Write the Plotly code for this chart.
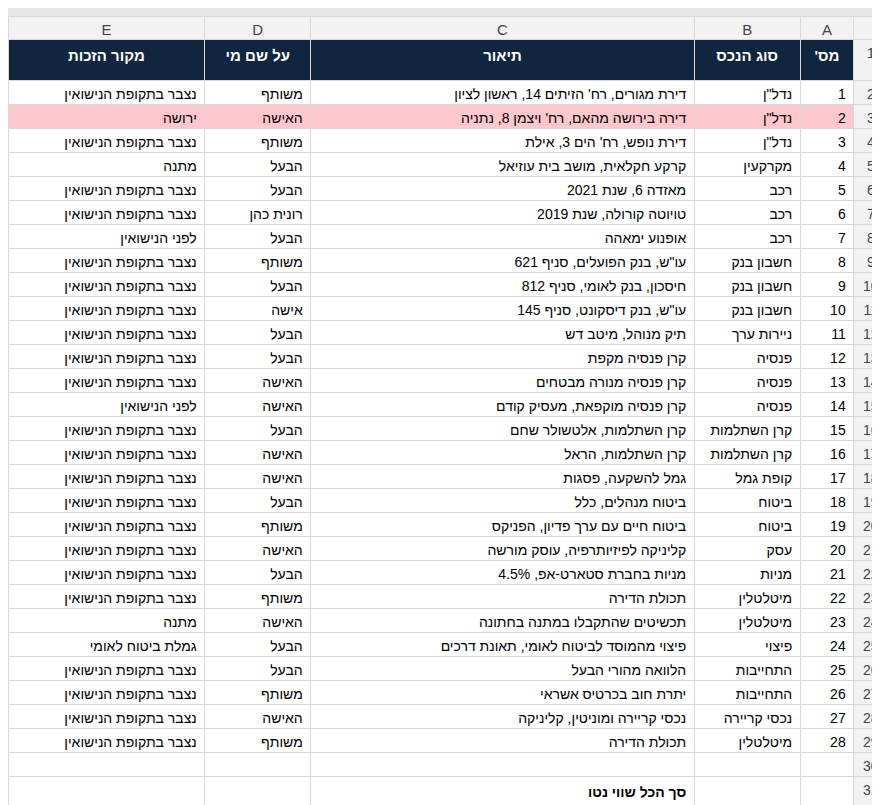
import plotly.graph_objects as go

RLE, PDF = '\u202b', '\u202c'

col_letters = ['E', 'D', 'C', 'B', 'A', '']
headers = ['מקור הזכות', 'על שם מי', 'תיאור', 'סוג הנכס', "מס'"]

num = list(range(1, 29))
asset_type = ['נדל"ן', 'נדל"ן', 'נדל"ן', 'מקרקעין', 'רכב', 'רכב', 'רכב', 'חשבון בנק', 'חשבון בנק',
              'חשבון בנק', 'ניירות ערך', 'פנסיה', 'פנסיה', 'פנסיה', 'קרן השתלמות', 'קרן השתלמות',
              'קופת גמל', 'ביטוח', 'ביטוח', 'עסק', 'מניות', 'מיטלטלין', 'מיטלטלין', 'פיצוי',
              'התחייבות', 'התחייבות', 'נכסי קריירה', 'מיטלטלין']
description = ["דירת מגורים, רח' הזיתים 14, ראשון לציון", "דירה בירושה מהאם, רח' ויצמן 8, נתניה",
               "דירת נופש, רח' הים 3, אילת", 'קרקע חקלאית, מושב בית עוזיאל', 'מאזדה 6, שנת 2021',
               'טויוטה קורולה, שנת 2019', 'אופנוע ימאהה', 'עו"ש, בנק הפועלים, סניף 621',
               'חיסכון, בנק לאומי, סניף 812', 'עו"ש, בנק דיסקונט, סניף 145', 'תיק מנוהל, מיטב דש',
               'קרן פנסיה מקפת', 'קרן פנסיה מנורה מבטחים', 'קרן פנסיה מוקפאת, מעסיק קודם',
               'קרן השתלמות, אלטשולר שחם', 'קרן השתלמות, הראל', 'גמל להשקעה, פסגות',
               'ביטוח מנהלים, כלל', 'ביטוח חיים עם ערך פדיון, הפניקס', 'קליניקה לפיזיותרפיה, עוסק מורשה',
               'מניות בחברת סטארט-אפ, 4.5%', 'תכולת הדירה', 'תכשיטים שהתקבלו במתנה בחתונה',
               'פיצוי מהמוסד לביטוח לאומי, תאונת דרכים', 'הלוואה מהורי הבעל', 'יתרת חוב בכרטיס אשראי',
               'נכסי קריירה ומוניטין, קליניקה', 'תכולת הדירה']
owner = ['משותף', 'האישה', 'משותף', 'הבעל', 'הבעל', 'רונית כהן', 'הבעל', 'משותף', 'הבעל', 'אישה',
         'הבעל', 'הבעל', 'האישה', 'האישה', 'הבעל', 'האישה', 'האישה', 'הבעל', 'משותף', 'האישה',
         'הבעל', 'משותף', 'האישה', 'הבעל', 'הבעל', 'משותף', 'האישה', 'משותף']
source = ['נצבר בתקופת הנישואין', 'ירושה', 'נצבר בתקופת הנישואין', 'מתנה', 'נצבר בתקופת הנישואין',
          'נצבר בתקופת הנישואין', 'לפני הנישואין', 'נצבר בתקופת הנישואין', 'נצבר בתקופת הנישואין',
          'נצבר בתקופת הנישואין', 'נצבר בתקופת הנישואין', 'נצבר בתקופת הנישואין',
          'נצבר בתקופת הנישואין', 'לפני הנישואין', 'נצבר בתקופת הנישואין', 'נצבר בתקופת הנישואין',
          'נצבר בתקופת הנישואין', 'נצבר בתקופת הנישואין', 'נצבר בתקופת הנישואין',
          'נצבר בתקופת הנישואין', 'נצבר בתקופת הנישואין', 'נצבר בתקופת הנישואין', 'מתנה',
          'גמלת ביטוח לאומי', 'נצבר בתקופת הנישואין', 'נצבר בתקופת הנישואין',
          'נצבר בתקופת הנישואין', 'נצבר בתקופת הנישואין']
total_label = 'סך הכל שווי נטו'
highlight_row = 2  # inheritance row

W, H = 880, 805
NAVY = '#10263f'
GRID = '#d9d9d9'
HDRGREY = '#f2f2f2'
FONT = 'Liberation Sans Narrow, Arial Narrow, sans-serif'
widths = [195, 105, 380, 105, 53, 34]


def rtl(s):
    return RLE + s + PDF if s else s


n = len(num)
cols = [
    [rtl(s) for s in source] + ['', ''],
    [rtl(s) for s in owner] + ['', ''],
    [rtl(s) for s in description] + ['', '<b>' + rtl(total_label) + '</b>'],
    [rtl(s) for s in asset_type] + ['', ''],
    [str(v) for v in num] + ['', ''],
    [str(i) for i in range(2, n + 4)],
]
row_fill = ['#ffc7ce' if i + 1 == highlight_row else 'white' for i in range(n + 2)]
fills = [row_fill] * 5 + [[HDRGREY] * (n + 2)]

fig = go.Figure()
# column letters + dark header row
fig.add_trace(go.Table(
    domain=dict(x=[0, 1], y=[1 - 79 / H, 1 - 8 / H]),
    columnwidth=widths,
    header=dict(values=col_letters, height=23, fill_color=HDRGREY,
                line_color=GRID, align='center',
                font=dict(family=FONT, size=15, color='#444')),
    cells=dict(values=[['<b>' + rtl(h) + '</b>'] for h in headers] + [['1']],
               height=48, fill_color=[NAVY] * 5 + [HDRGREY],
               line_color=[GRID] * 6, align='center',
               font=dict(family=FONT, size=15, color=['white'] * 5 + ['#444'])),
))
# data rows
fig.add_trace(go.Table(
    domain=dict(x=[0, 1], y=[0, 1 - 72 / H]),
    columnwidth=widths,
    header=dict(values=[''] * 6, height=0, line_color='white', fill_color='white'),
    cells=dict(values=cols, height=24, fill_color=fills, line_color=GRID,
               align=['right'] * 5 + ['center'],
               font=dict(family=FONT, size=14, color=['black'] * 5 + ['#444'])),
))
fig.update_layout(width=W, height=H, margin=dict(l=0, r=0, t=0, b=0),
                  paper_bgcolor='#e6e6e6')
fig.write_html('out.html')
